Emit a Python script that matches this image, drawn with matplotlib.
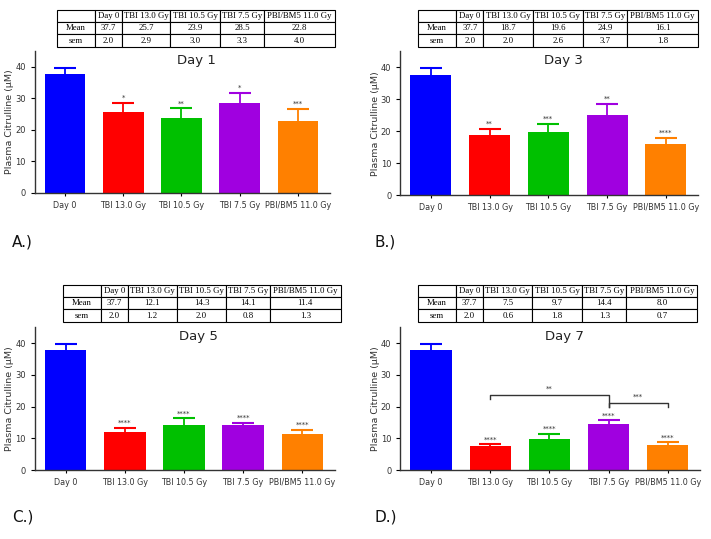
import matplotlib
matplotlib.use("Agg")
import matplotlib.pyplot as plt

groups = ["Day 0", "TBI 13.0 Gy", "TBI 10.5 Gy", "TBI 7.5 Gy", "PBI/BM5 11.0 Gy"]
colors = ["#0000ff", "#ff0000", "#00c000", "#a000e0", "#ff8000"]

days = ["Day 1", "Day 3", "Day 5", "Day 7"]
panel_tags = ["A.)", "B.)", "C.)", "D.)"]

mean_d1 = [37.7, 25.7, 23.9, 28.5, 22.8]
sem_d1 = [2.0, 2.9, 3.0, 3.3, 4.0]
mean_d3 = [37.7, 18.7, 19.6, 24.9, 16.1]
sem_d3 = [2.0, 2.0, 2.6, 3.7, 1.8]
mean_d5 = [37.7, 12.1, 14.3, 14.1, 11.4]
sem_d5 = [2.0, 1.2, 2.0, 0.8, 1.3]
mean_d7 = [37.7, 7.5, 9.7, 14.4, 8.0]
sem_d7 = [2.0, 0.6, 1.8, 1.3, 0.7]

stars_d1 = ["", "*", "**", "*", "***"]
stars_d3 = ["", "**", "***", "**", "****"]
stars_d5 = ["", "****", "****", "****", "****"]
stars_d7 = ["", "****", "****", "****", "****"]

means = [mean_d1, mean_d3, mean_d5, mean_d7]
sems = [sem_d1, sem_d3, sem_d5, sem_d7]
stars = [stars_d1, stars_d3, stars_d5, stars_d7]

# figure-fraction boxes: [left, bottom, width, height]
ax_boxes = [[0.049, 0.642, 0.415, 0.263], [0.563, 0.638, 0.419, 0.267],
            [0.049, 0.128, 0.422, 0.265], [0.563, 0.128, 0.422, 0.265]]
tab_boxes = [[0.080, 0.913, 0.391, 0.069], [0.588, 0.913, 0.394, 0.069],
             [0.089, 0.403, 0.390, 0.069], [0.588, 0.403, 0.393, 0.069]]
tag_pos = [(0.017, 0.542), (0.527, 0.542), (0.017, 0.032), (0.527, 0.032)]
col_w = [38, 27, 49, 50, 44, 71]

fig = plt.figure(figsize=(7.11, 5.39), dpi=100)

for i in range(4):
    ax = fig.add_axes(ax_boxes[i])
    x = list(range(len(groups)))
    ax.bar(x, means[i], width=0.7, color=colors, zorder=2)
    for j in x:
        eb = ax.errorbar(j, means[i][j], yerr=[[0], [sems[i][j]]], color=colors[j],
                         capsize=8, elinewidth=1.3, capthick=1.5, zorder=1)
        eb[1][0].remove()  # upward-only error bars
        if stars[i][j]:
            ax.text(j, means[i][j] + sems[i][j] + 0.6, stars[i][j], ha="center",
                    va="bottom", fontsize=5, color="#333333")
    ax.set_xlim(-0.52, 4.55)
    ax.set_ylim(0, 45)
    ax.set_yticks([0, 10, 20, 30, 40])
    ax.set_xticks(x)
    ax.set_xticklabels(groups, fontsize=5.8, color="#333333")
    ax.tick_params(axis="y", labelsize=6.0, labelcolor="#333333", length=3, width=0.8)
    ax.tick_params(axis="x", length=2, width=0.8, pad=4)
    for s in ["top", "right"]:
        ax.spines[s].set_visible(False)
    for s in ["left", "bottom"]:
        ax.spines[s].set_linewidth(1.0)
        ax.spines[s].set_color("#333333")
    ax.set_ylabel("Plasma Citrulline (\u00b5M)", fontsize=6.8, color="#333333", labelpad=0.5)
    ax.text(2.25, 42, days[i], fontsize=9.5, color="#222222", ha="center", va="center")

    if i == 3:
        ax.plot([1, 1, 3, 3], [22.4, 23.6, 23.6, 20.0], color="#333333", lw=1)
        ax.text(2.0, 24.6, "**", ha="center", va="bottom", fontsize=5, color="#333333")
        ax.plot([3, 3, 4, 4], [20.0, 21.1, 21.1, 19.8], color="#333333", lw=1)
        ax.text(3.5, 22.1, "***", ha="center", va="bottom", fontsize=5, color="#333333")

    tax = fig.add_axes(tab_boxes[i])
    tax.axis("off")
    rows = [[""] + groups,
            ["Mean"] + ["%.1f" % v for v in means[i]],
            ["sem"] + ["%.1f" % v for v in sems[i]]]
    tot = float(sum(col_w))
    tbl = tax.table(cellText=rows, cellLoc="center", bbox=[0, 0, 1, 1],
                    colWidths=[w / tot for w in col_w])
    tbl.auto_set_font_size(False)
    for cell in tbl.get_celld().values():
        cell.set_linewidth(0.8)
        cell.get_text().set_fontsize(6.3)
        cell.get_text().set_fontfamily("Liberation Serif")

    fig.text(tag_pos[i][0], tag_pos[i][1], panel_tags[i], fontsize=11, color="#111111")

fig.savefig("out.png", dpi=100)
